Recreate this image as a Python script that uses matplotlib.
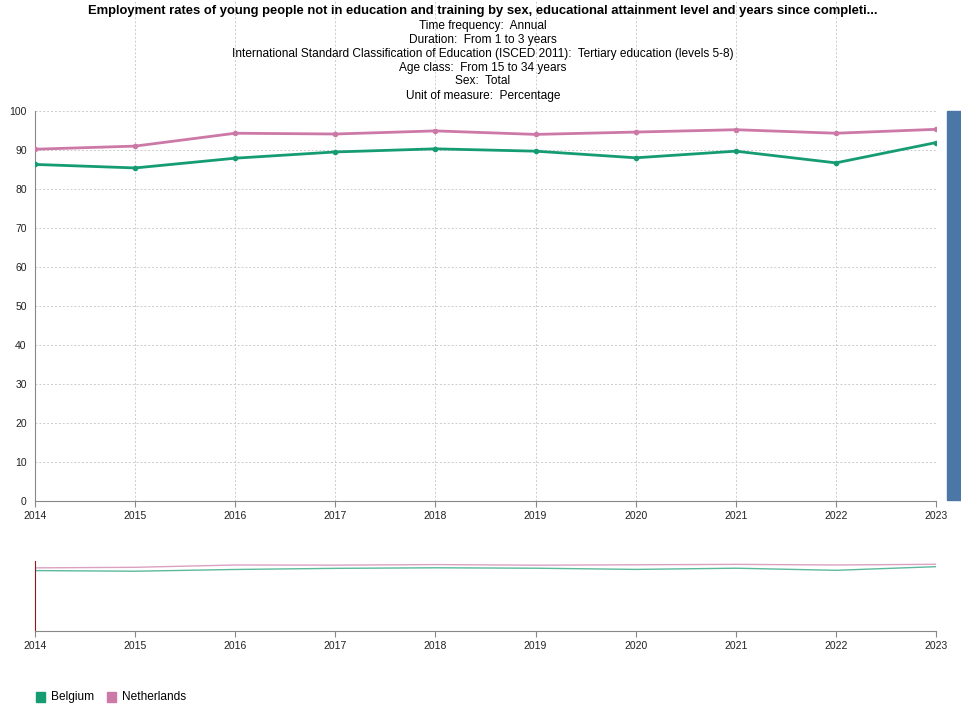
import matplotlib
matplotlib.use("Agg")
import matplotlib.pyplot as plt
from matplotlib.patches import Rectangle

plt.rcParams['font.family'] = ['Liberation Sans', 'DejaVu Sans']

years = [2014, 2015, 2016, 2017, 2018, 2019, 2020, 2021, 2022, 2023]
belgium = [86.3, 85.4, 87.9, 89.5, 90.3, 89.7, 88.0, 89.7, 86.7, 91.9]
netherlands = [90.2, 91.0, 94.3, 94.1, 94.9, 94.0, 94.6, 95.2, 94.3, 95.3]
yticks = [0, 10, 20, 30, 40, 50, 60, 70, 80, 90, 100]

title = "Employment rates of young people not in education and training by sex, educational attainment level and years since completi..."
subtitles = [
    "Time frequency:  Annual",
    "Duration:  From 1 to 3 years",
    "International Standard Classification of Education (ISCED 2011):  Tertiary education (levels 5-8)",
    "Age class:  From 15 to 34 years",
    "Sex:  Total",
    "Unit of measure:  Percentage",
]
series_names = ["Belgium", "Netherlands"]
c_be = "#169c73"
c_nl = "#cc79a7"

W, H = 962, 705
fig = plt.figure(figsize=(W / 100, H / 100), dpi=100)

def ax_rect(x0, y0, x1, y1):
    return [x0 / W, 1 - y1 / H, (x1 - x0) / W, (y1 - y0) / H]

# main axes: spans from top of figure to y=501, with 100 at y=111
ax = fig.add_axes(ax_rect(35, 0, 936, 501))
ymax = 100 * 501 / (501 - 111)
ax.set_xlim(2014, 2023)
ax.set_ylim(0, ymax)
ax.set_yticks(yticks)
ax.set_xticks(years)
ax.set_xticklabels([str(y) for y in years])
for s in ["top", "right"]:
    ax.spines[s].set_visible(False)
ax.spines["left"].set_bounds(0, 100)
ax.spines["left"].set_color("#888888")
ax.spines["bottom"].set_color("#888888")
ax.tick_params(axis="both", labelsize=7.5, colors="#222222", length=4, width=0.8)
ax.tick_params(axis="y", length=0, pad=6)
ax.tick_params(axis="x", color="#888888")
for y in yticks[1:]:
    ax.axhline(y, color="#cccccc", lw=0.7, ls=(0, (2, 2)), zorder=0)
for x in years[1:]:
    ax.axvline(x, color="#cccccc", lw=0.7, ls=(0, (2, 2)), zorder=0)

ax.plot(years, belgium, color=c_be, lw=2.0, marker="o", ms=3, zorder=3)
ax.plot(years, netherlands, color=c_nl, lw=2.0, marker="o", ms=3, zorder=3)

# title and subtitles
fig.text(483 / W, 1 - 11 / H, title, ha="center", va="center", fontsize=9.4, fontweight="bold")
for i, s in enumerate(subtitles):
    fig.text(483 / W, 1 - (25.5 + 14 * i) / H, s, ha="center", va="center", fontsize=8.6)

# right blue bar
fig.patches.append(Rectangle((947 / W, 1 - 500 / H), 15 / W, 389 / H,
                             transform=fig.transFigure, color="#4a77a5"))

# navigator
nav = fig.add_axes(ax_rect(35, 561, 936, 631))
nav.set_xlim(2014, 2023)
nav.set_ylim(0, 100)
nav.set_yticks([])
nav.set_xticks(years)
nav.set_xticklabels([str(y) for y in years])
for s in ["top", "right"]:
    nav.spines[s].set_visible(False)
nav.spines["left"].set_color("#8b1a1a")
nav.spines["bottom"].set_color("#888888")
nav.tick_params(axis="x", labelsize=7.5, colors="#222222", length=4, width=0.8)
nav.tick_params(axis="x", color="#888888")
nav.plot(years, belgium, color=c_be, lw=1.0, alpha=0.7)
nav.plot(years, netherlands, color=c_nl, lw=1.0, alpha=0.7)

# legend
for i, (name, col, x) in enumerate(zip(series_names, [c_be, c_nl], [36, 107])):
    fig.patches.append(Rectangle((x / W, 1 - 702 / H), 9 / W, 10 / H,
                                 transform=fig.transFigure, color=col))
    fig.text((x + 15) / W, 1 - 697 / H, name, ha="left", va="center", fontsize=8.6)

fig.savefig("out.png", dpi=100)
